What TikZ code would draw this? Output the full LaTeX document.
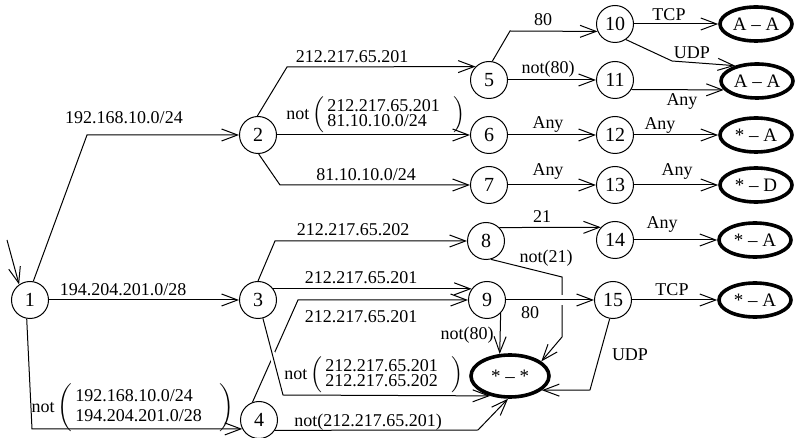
\documentclass[tikz,border=0pt]{standalone}
\usepackage{fontspec}
\setmainfont{Liberation Serif}
\usepackage{tikz}
\usetikzlibrary{positioning, arrows.meta, shapes.geometric, calc}

\begin{document}
\begin{tikzpicture}[
    x=0.5pt, y=-0.5pt,
    line width=0.5pt,
    >={Straight Barb[length=8pt, width=6pt]},
    state/.style={circle, draw, minimum size=18.5pt, inner sep=0pt, font=\fontsize{10}{12}\selectfont},
    verdict/.style={ellipse, draw, line width=1.8pt, minimum width=36pt, minimum height=17pt, inner sep=0pt, font=\fontsize{9.5}{11}\selectfont},
    guard/.style={inner sep=0pt, font=\fontsize{9}{10}\selectfont},
    cutout/.style={draw=white, line width=3pt}
]
\useasboundingbox (0,0) rectangle (799,438);

\node[state] (s1) at (30,300) {1};
\node[state] (s2) at (258,135) {2};
\node[state] (s3) at (258,300) {3};
\node[state] (s4) at (259,420) {4};
\node[state] (s5) at (489,80) {5};
\node[state] (s6) at (489,135) {6};
\node[state] (s7) at (489,185) {7};
\node[state] (s8) at (486,241) {8};
\node[state] (s9) at (487,300) {9};
\node[state] (s10) at (615,24) {10};
\node[state] (s11) at (615,80) {11};
\node[state] (s12) at (615,135) {12};
\node[state] (s13) at (615,185) {13};
\node[state] (s14) at (615,240) {14};
\node[state] (s15) at (613,300) {15};

\node[verdict] (v10) at (756,24) {A -- A};
\node[verdict] (v11) at (757,81) {A -- A};
\node[verdict] (v12) at (756,135) {* -- A};
\node[verdict] (v13) at (756,185) {* -- D};
\node[verdict] (v14) at (755,240) {* -- A};
\node[verdict] (v15) at (755,300) {* -- A};
\node[verdict, minimum width=39pt, minimum height=21pt] (vstar) at (510,376) {* -- *};

\coordinate (entry) at (7,240);
\coordinate (c12) at (87,135);
\coordinate (c14) at (32,429);
\coordinate (c25) at (287,67);
\coordinate (c27) at (280,185);
\coordinate (c38) at (275,241);
\coordinate (c49) at (298,300);
\coordinate (c3v) at (283,395);
\coordinate (c4v) at (478,430);
\coordinate (c510) at (510,31);
\coordinate (c1011) at (672,61);
\coordinate (c8a) at (562,277);
\coordinate (c8b) at (562,337);
\coordinate (c15v) at (590,390);

\draw[->] (entry) -- (s1.125);
\draw[->] (s1.80) -- (c12) -- (s2);
\draw[->] (s1) -- (s3);
\draw[->] (s1.-100) -- (c14) -- (s4.208);

\draw[->] (s2.92) -- (c25) -- (s5.135);
\draw[->] (s2) -- (s6);
\draw[->] (s2.-88) -- (c27) -- (s7);

\draw[->] (s3.90) -- (c38) -- (s8);
\draw[->] (s3.36) -- (s9.144);
\draw[->] (s4.110) -- (c49) -- (s9);
\draw[cutout] ($(s3.-75)!0.45!(c3v)$) -- ($(s3.-75)!0.65!(c3v)$);
\draw[->] (s3.-75) -- (c3v) -- (vstar.225);
\draw[->] (s4.-33) -- (c4v) -- (vstar.-95);

\draw[->] (s5.80) -- (c510) -- (s10.203);
\draw[->] (s5) -- (s11);
\draw[->] (s6) -- (s12);
\draw[->] (s7) -- (s13);
\draw[->] (s8.45) -- (s14.138);
\draw[->] (s8.-75) -- (c8a) -- (c8b) -- (vstar.25);
\draw[cutout, line width=5pt] ($(s9)!0.55!(s15)$) -- ($(s9)!0.64!(s15)$);
\draw[->] (s9) -- (s15);
\draw[->] (s9.-44) -- (vstar.115);

\draw[->] (s10) -- (v10);
\draw[->] (s10.-55) -- (c1011) -- (v11.145);
\draw[->] (s11.-30) -- (v11.195);
\draw[->] (s12) -- (v12);
\draw[->] (s13) -- (v13);
\draw[->] (s14) -- (v14);
\draw[->] (s15) -- (v15);
\draw[->] (s15.-100) -- (c15v) -- (vstar.-24);

\node[guard] (g12) at (124,118) {192.168.10.0/24};
\node[guard] (g13) at (123,290) {194.204.201.0/28};
\node[guard] (g14) at (133,408) {not\,$\left(\begin{tabular}{@{\,}l@{\hspace{9pt}}}192.168.10.0/24\\194.204.201.0/28\end{tabular}\right)$};
\node[guard] (g25) at (352,57) {212.217.65.201};
\node[guard] (g26) at (376,115) {not\,$\left(\begin{tabular}{@{\,}l@{\hspace{7pt}}}212.217.65.201\\[-2.5pt]81.10.10.0/24\end{tabular}\right)$};
\node[guard] (g27) at (366,175) {81.10.10.0/24};
\node[guard] (g38) at (353,230) {212.217.65.202};
\node[guard] (g39) at (361,278) {212.217.65.201};
\node[guard] (g49) at (361,317) {212.217.65.201};
\node[guard] (g3v) at (374,375) {not\,$\left(\begin{tabular}{@{\,}l@{\hspace{7pt}}}212.217.65.201\\[-2.5pt]212.217.65.202\end{tabular}\right)$};
\node[guard] (g4v) at (368,422) {not(212.217.65.201)};
\node[guard] (g510) at (543,20) {80};
\node[guard] (g511) at (548,69) {not(80)};
\node[guard] (g612) at (548,125) {Any};
\node[guard] (g713) at (548,172) {Any};
\node[guard] (g814) at (542,217) {21};
\node[guard] (g8v) at (546,258) {not(21)};
\node[guard] (g915) at (530,313) {80};
\node[guard] (g9v) at (467,335) {not(80)};
\node[guard] (g1010) at (669,15) {TCP};
\node[guard] (g1011) at (692,53) {UDP};
\node[guard] (g1111) at (682,102) {Any};
\node[guard] (g1212) at (660,126) {Any};
\node[guard] (g1313) at (677,172) {Any};
\node[guard] (g1414) at (662,225) {Any};
\node[guard] (g1515) at (672,290) {TCP};
\node[guard] (g15v) at (630,355) {UDP};

\end{tikzpicture}
\end{document}
